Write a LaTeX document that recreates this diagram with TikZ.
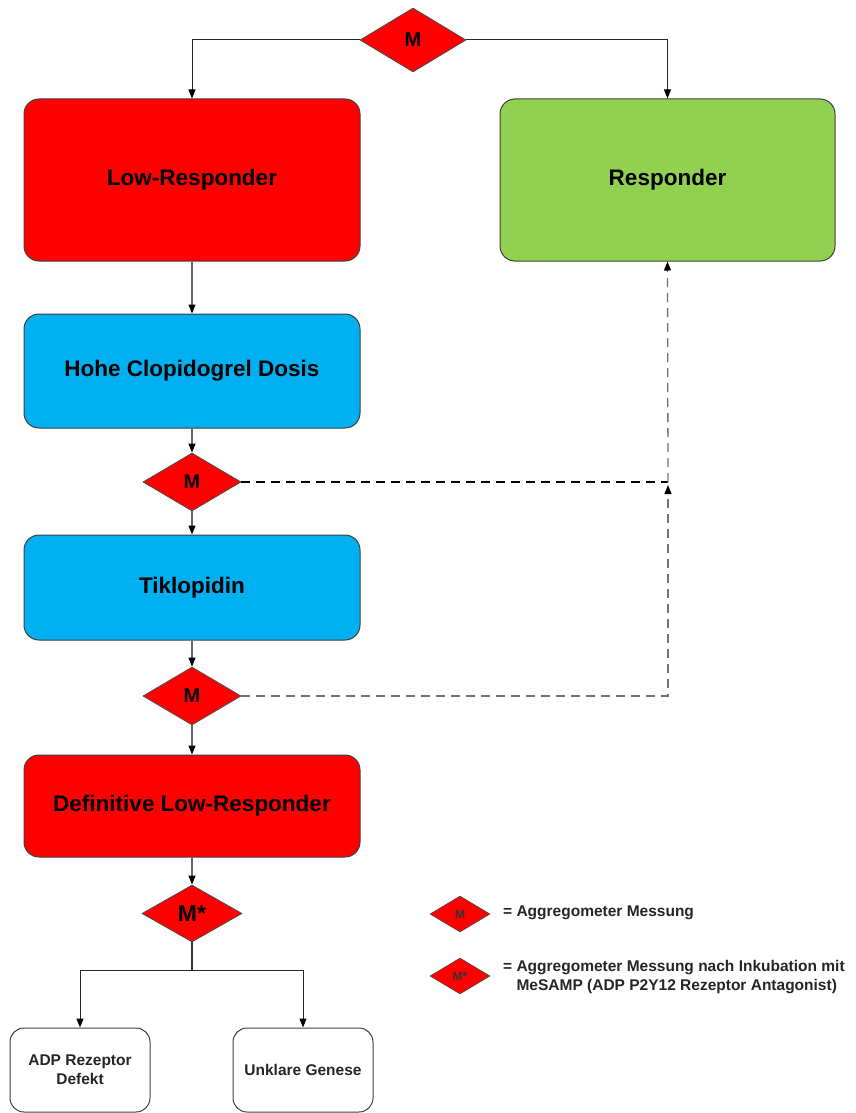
\documentclass[tikz,border=0pt]{standalone}
\usepackage{fontspec}
\setmainfont{Liberation Sans}
\usetikzlibrary{shapes.geometric,arrows.meta}
\definecolor{cred}{HTML}{FF0000}
\definecolor{cgreen}{HTML}{92D050}
\definecolor{cblue}{HTML}{00B0F0}
\begin{document}
\begin{tikzpicture}[x=1pt,y=-1pt,
  box/.style={draw=black!75, rounded corners=15pt, line width=1pt, inner sep=0pt, font=\fontsize{22.5}{27}\selectfont\bfseries},
  smallbox/.style={draw=black!75, fill=white, rounded corners=14pt, line width=1pt, inner sep=0pt, align=center, minimum width=140pt, minimum height=84pt, font=\fontsize{15.5}{19}\selectfont\bfseries, text=black!85},
  dia/.style={diamond, draw=black!70, fill=cred, line width=0.8pt, inner sep=0pt, minimum width=98pt, minimum height=58pt, font=\fontsize{20}{24}\selectfont\bfseries},
  ldia/.style={diamond, draw=black!70, fill=cred, line width=0.6pt, inner sep=0pt, minimum width=60pt, minimum height=36pt, font=\fontsize{12}{14}\selectfont\bfseries, text=black!80},
  conn/.style={line width=1.3pt, draw=black!60, -{Triangle[length=9pt,width=7pt,color=black]}},
  thin/.style={line width=1pt, draw=black!85, -{Triangle[length=9pt,width=7pt,color=black]}},
  dline/.style={line width=1.3pt, dash pattern=on 9pt off 6pt},
  legend/.style={anchor=west, align=left, inner sep=0pt, font=\fontsize{15.5}{19.5}\selectfont\bfseries, text=black!85}]
\path[use as bounding box, clip] (0,0) rectangle (855,1113);
\fill[white] (0,0) rectangle (855,1113);

\node[dia, minimum width=106pt, minimum height=64pt] (m0) at (413,40) {M};
\node[box, fill=cred, minimum width=336pt, minimum height=162pt] (low) at (192,180) {Low-Responder};
\node[box, fill=cgreen, minimum width=335pt, minimum height=162pt] (resp) at (667.5,180) {Responder};
\node[box, fill=cblue, minimum width=336pt, minimum height=114pt] (hohe) at (192,371) {Hohe Clopidogrel Dosis};
\node[dia] (m1) at (192,482) {M};
\node[box, fill=cblue, minimum width=336pt, minimum height=105pt] (tik) at (192,587.5) {Tiklopidin};
\node[dia] (m2) at (192,696) {M};
\node[box, fill=cred, minimum width=336pt, minimum height=102pt] (def) at (192,806) {Definitive Low-Responder};
\node[dia, minimum width=100pt, minimum height=57pt, font=\fontsize{23}{27}\selectfont\bfseries] (ms) at (192,913.5) {M*};
\node[smallbox] (adp) at (80,1070) {ADP Rezeptor\\Defekt};
\node[smallbox] (unk) at (303,1070) {Unklare Genese};

\node[ldia] (l1) at (460,914) {M};
\node[ldia] (l2) at (460,976) {M*};
\node[legend] (t1) at (503,913) {= Aggregometer Messung};
\node[legend] (t2) at (503,977) {= Aggregometer Messung nach Inkubation mit\\\phantom{= }MeSAMP (ADP P2Y12 Rezeptor Antagonist)};

\coordinate (split) at (192,970);
\coordinate (j1) at (668,482);
\coordinate (j2) at (668,485);

\draw[thin] (m0.west) -| (low.north);
\draw[thin] (m0.east) -| (resp.north);
\draw[conn] (low.south) -- (hohe.north);
\draw[conn] (hohe.south) -- (m1.north);
\draw[conn] (m1.south) -- (tik.north);
\draw[conn] (tik.south) -- (m2.north);
\draw[conn] (m2.south) -- (def.north);
\draw[conn] (def.south) -- (ms.north);
\draw[line width=1.5pt, draw=black!80] (ms.south) -- (split);
\draw[thin] (split) -| (adp.north);
\draw[thin] (split) -| (unk.north);

\draw[dline, draw=black] (m1.east) -- (j1);
\draw[dline, draw=black!55, -{Triangle[length=9pt,width=7pt,color=black]}] (j1) -- (resp.south);
\draw[dline, draw=black!55, -{Triangle[length=9pt,width=7pt,color=black]}] (m2.east) -| (j2);
\end{tikzpicture}
\end{document}
